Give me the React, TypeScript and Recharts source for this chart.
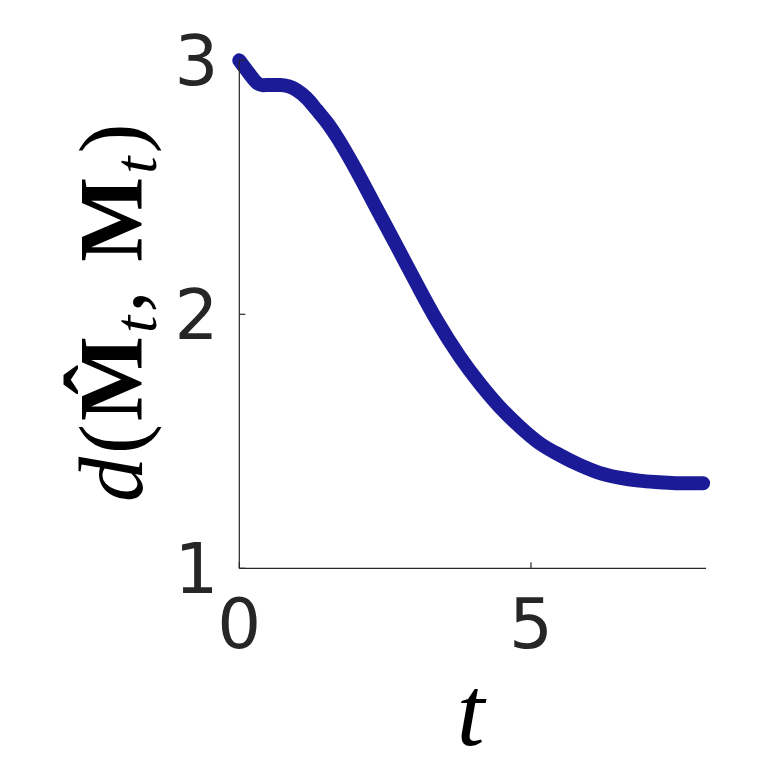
import React from "react";
import { LineChart, Line, XAxis, YAxis, Label } from "recharts";

const tValues = [0, 0.08, 0.18, 0.3, 0.4, 0.55, 0.7, 0.85, 0.98, 1.15, 1.33, 1.5, 1.67, 2.01, 2.35, 2.7, 3.04, 3.38, 3.78, 4.12, 4.46, 4.81, 5.15, 5.49, 5.83, 6.17, 6.51, 6.85, 7.19, 7.53, 7.95];
const dValues = [3.0, 2.975, 2.945, 2.912, 2.902, 2.903, 2.903, 2.897, 2.883, 2.852, 2.804, 2.756, 2.699, 2.565, 2.418, 2.268, 2.12, 1.978, 1.833, 1.728, 1.636, 1.557, 1.492, 1.446, 1.407, 1.376, 1.357, 1.345, 1.339, 1.335, 1.335];
const xTicks = [0, 5];
const yTicks = [1, 2, 3];

const data = tValues.map((t, i) => ({ t, d: dValues[i] }));

const AXIS_COLOR = "#262626";
const LINE_COLOR = "#1b1b98";

const XTick = (props: any) => {
  const { x, y, payload } = props;
  const axisY = y - 31;
  return (
    <g>
      <line x1={x} x2={x} y1={axisY} y2={axisY - 6} stroke={AXIS_COLOR} strokeWidth={1.2} />
      <text x={x} y={y} dy="0.71em" textAnchor="middle" fill={AXIS_COLOR} fontFamily="DejaVu Sans" fontSize={69}>
        {payload.value}
      </text>
    </g>
  );
};

const YTick = (props: any) => {
  const { x, y, payload } = props;
  const axisX = x + 21;
  return (
    <g>
      <line x1={axisX} x2={axisX + 6} y1={y} y2={y} stroke={AXIS_COLOR} strokeWidth={1.2} />
      <text x={x} y={y} dy="0.355em" textAnchor="end" fill={AXIS_COLOR} fontFamily="DejaVu Sans" fontSize={69}>
        {payload.value}
      </text>
    </g>
  );
};

const YLabel = (props: any) => {
  const vb = props.viewBox || { x: 0, y: 0, width: 0, height: 0 };
  const cx = vb.x + 142;
  const cy = vb.y + vb.height / 2 - 3;
  return (
    <text
      x={cx}
      y={cy}
      textAnchor="middle"
      transform={`rotate(-90, ${cx}, ${cy})`}
      fill="#000"
      fontFamily="Liberation Serif"
      fontSize={90}
      letterSpacing={3}
    >
      <tspan fontStyle="italic">d</tspan>
      <tspan>(</tspan>
      <tspan fontWeight="bold">{"M\u0302"}</tspan>
      <tspan fontStyle="italic" fontSize={62} dy={14}>t</tspan>
      <tspan dy={-14}>, </tspan>
      <tspan fontWeight="bold">M</tspan>
      <tspan fontStyle="italic" fontSize={62} dy={14}>t</tspan>
      <tspan dy={-14}>)</tspan>
    </text>
  );
};

const XLabel = (props: any) => {
  const vb = props.viewBox || { x: 0, y: 0, width: 0, height: 0 };
  const cx = vb.x + vb.width / 2 - 2;
  const cy = vb.y + 177;
  return (
    <text x={cx} y={cy} textAnchor="middle" fill="#000" fontFamily="Liberation Serif" fontStyle="italic" fontSize={100}>
      t
    </text>
  );
};

export default function App() {
  return (
    <div style={{ position: "absolute", left: 0, top: 0, width: 781, height: 781, background: "#fff" }}>
      <LineChart width={781} height={781} data={data} margin={{ top: 60.3, right: 75, bottom: 0, left: 0.3 }}>
        <XAxis
          dataKey="t"
          type="number"
          domain={[0, 8]}
          ticks={xTicks}
          height={212.7}
          tickSize={0}
          tickMargin={31}
          tick={<XTick />}
          axisLine={{ stroke: AXIS_COLOR, strokeWidth: 1.2 }}
          tickLine={false}
        >
          <Label content={<XLabel />} />
        </XAxis>
        <YAxis
          dataKey="d"
          type="number"
          domain={[1, 3]}
          ticks={yTicks}
          width={239}
          tickSize={0}
          tickMargin={21}
          tick={<YTick />}
          axisLine={{ stroke: AXIS_COLOR, strokeWidth: 1.2 }}
          tickLine={false}
        >
          <Label content={<YLabel />} />
        </YAxis>
        <Line
          type="monotone"
          dataKey="d"
          stroke={LINE_COLOR}
          strokeWidth={14}
          strokeLinecap="round"
          strokeLinejoin="round"
          dot={false}
          activeDot={false}
          isAnimationActive={false}
        />
      </LineChart>
    </div>
  );
}
